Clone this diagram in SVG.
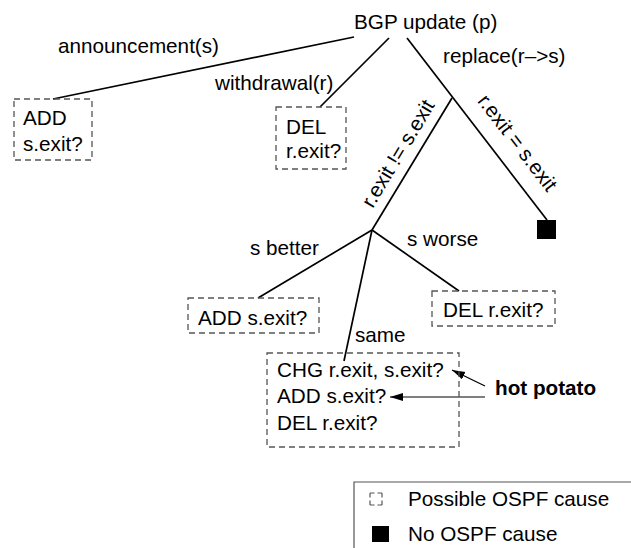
<svg xmlns="http://www.w3.org/2000/svg" width="631" height="548" viewBox="0 0 631 548">
  <style>
    text { font-family: "Liberation Sans", Arial, Helvetica, sans-serif; font-size: 20.7px; fill: #000; }
    .bold { font-weight: bold; }
    .box { fill: none; stroke: #555; stroke-width: 1.3; stroke-dasharray: 6 4; }
    .edge { fill: none; stroke: #000; stroke-width: 1.7; }
    .ptr { fill: none; stroke: #000; stroke-width: 1.2; }
    .solid { fill: #000; }
  </style>
  <defs>
    <marker id="arrow" markerUnits="userSpaceOnUse" markerWidth="14" markerHeight="10" refX="13" refY="4" orient="auto">
      <path d="M0,0 L13,4 L0,8 z" fill="#000"/>
    </marker>
  </defs>

  <!-- root -->
  <g id="root">
    <text x="354" y="29">BGP update (p)</text>
  </g>

  <!-- tree edges and their labels -->
  <g id="connectors">
    <line class="edge" x1="354" y1="37" x2="53" y2="99"/>
    <line class="edge" x1="389" y1="38" x2="320" y2="107"/>
    <line class="edge" x1="407" y1="38" x2="547" y2="220"/>
    <line class="edge" x1="452" y1="98" x2="372" y2="230"/>
    <line class="edge" x1="372" y1="230" x2="258" y2="298"/>
    <line class="edge" x1="372" y1="230" x2="459" y2="291"/>
    <line class="edge" x1="372" y1="230" x2="344" y2="361"/>

    <text x="58" y="53">announcement(s)</text>
    <text x="215" y="90">withdrawal(r)</text>
    <text x="443" y="63">replace(r–&gt;s)</text>
    <text text-anchor="middle" transform="translate(404,157) rotate(-58.9)">r.exit != s.exit</text>
    <text text-anchor="middle" transform="translate(512,147) rotate(52.4)">r.exit = s.exit</text>
    <text x="250" y="255">s better</text>
    <text x="407" y="246">s worse</text>
    <text x="355" y="342">same</text>

    <line class="ptr" x1="485" y1="386" x2="452" y2="370" marker-end="url(#arrow)"/>
    <line class="ptr" x1="485" y1="397" x2="390" y2="397" marker-end="url(#arrow)"/>
  </g>

  <g id="announce">
    <rect class="box" x="14" y="99" width="78" height="61"/>
    <text x="23" y="125">ADD</text>
    <text x="23" y="151">s.exit?</text>
  </g>

  <g id="withdraw">
    <rect class="box" x="276" y="107" width="70" height="62"/>
    <text x="286" y="134">DEL</text>
    <text x="286" y="158">r.exit?</text>
  </g>

  <g id="same-exit">
    <rect class="solid" x="537" y="220" width="19" height="19"/>
  </g>

  <g id="better">
    <rect class="box" x="188" y="298" width="131" height="35"/>
    <text x="198" y="325">ADD s.exit?</text>
  </g>

  <g id="worse">
    <rect class="box" x="432" y="291" width="123" height="35"/>
    <text x="443" y="317">DEL r.exit?</text>
  </g>

  <g id="tie">
    <rect class="box" x="267" y="353" width="192" height="94"/>
    <text x="277" y="377">CHG r.exit, s.exit?</text>
    <text x="277" y="403">ADD s.exit?</text>
    <text x="277" y="430">DEL r.exit?</text>
  </g>

  <g id="hot-potato">
    <text class="bold" x="495" y="395">hot potato</text>
  </g>

  <g id="legend">
    <path d="M354,548 V482 H631" fill="none" stroke="#555" stroke-width="1.2"/>
    <!-- dashed key: corner marks with a gap in the middle of each side -->
    <rect x="370" y="493" width="12" height="12" fill="none" stroke="#555" stroke-width="1.2" stroke-dasharray="4.5 3 4.5 0"/>
    <text x="408" y="506">Possible OSPF cause</text>
    <rect class="solid" x="372" y="526" width="17" height="16"/>
    <text x="408" y="541">No OSPF cause</text>
  </g>
</svg>
